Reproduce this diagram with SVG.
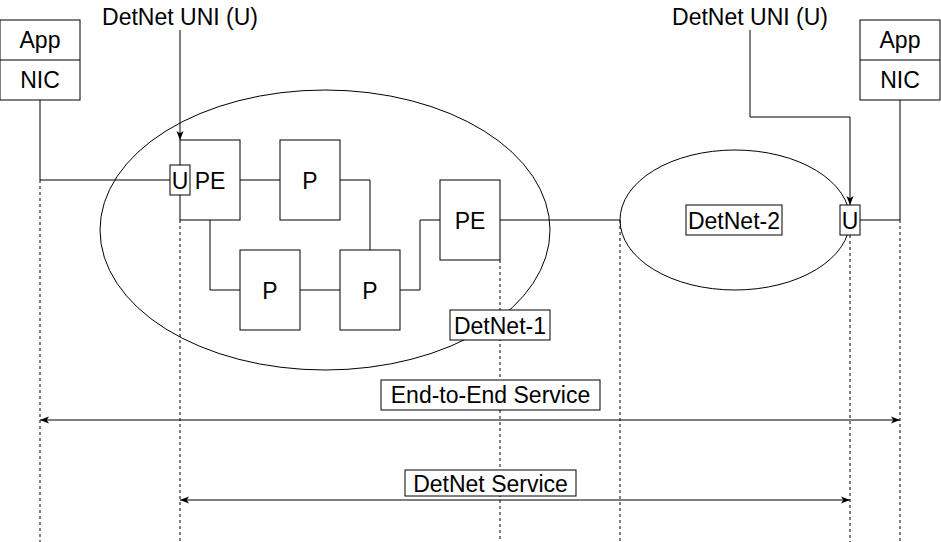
<svg xmlns="http://www.w3.org/2000/svg" width="941" height="542" viewBox="0 0 941 542">
<style>
text{font-family:"Liberation Sans",Arial,sans-serif;font-size:23px;fill:#000;text-anchor:middle}
.box{fill:#fff;stroke:#000;stroke-width:1}
.ell{fill:#fff;stroke:#000;stroke-width:1}
.ln{fill:none;stroke:#000;stroke-width:1}
.dash{fill:none;stroke:#000;stroke-width:1;stroke-dasharray:3 3}
</style>
<defs>
<marker id="arr" viewBox="0 0 10 8" refX="10" refY="4" markerWidth="9" markerHeight="7.2" markerUnits="userSpaceOnUse" orient="auto-start-reverse">
<path d="M0,0 L10,4 L0,8 L2.5,4 Z" fill="#000"/>
</marker>
</defs>
<g id="detnet1">
<ellipse class="ell" cx="325" cy="230" rx="225" ry="140"/>
</g>
<g id="detnet2">
<ellipse class="ell" cx="735" cy="220" rx="115" ry="70"/>
</g>
<g id="connectors">
<path class="ln" d="M40,100 V180 H170"/>
<path class="ln" d="M240,180 H280"/>
<path class="ln" d="M340,180 H370 V250"/>
<path class="ln" d="M210,220 V290 H240"/>
<path class="ln" d="M300,290 H340"/>
<path class="ln" d="M400,290 H420 V220 H440"/>
<path class="ln" d="M500,220 H620"/>
<path class="ln" d="M860,220 H900 V100"/>
<path class="ln" d="M180,30 V140" marker-end="url(#arr)"/>
<path class="ln" d="M750,30 V117 H850 V205" marker-end="url(#arr)"/>
<path class="dash" d="M40,180 V542"/>
<path class="dash" d="M180,220 V542"/>
<path class="dash" d="M500,260 V542"/>
<path class="dash" d="M620,220 V542"/>
<path class="dash" d="M850,235 V542"/>
<path class="dash" d="M900,220 V542"/>
<path class="ln" d="M40,420 H900" marker-start="url(#arr)" marker-end="url(#arr)"/>
<path class="ln" d="M180,500 H850" marker-start="url(#arr)" marker-end="url(#arr)"/>
</g>
<g id="host-left">
<rect class="box" x="0" y="20" width="80" height="80"/>
<path class="ln" d="M0,60 H80"/>
<text x="40" y="48">App</text>
<text x="40" y="88">NIC</text>
</g>
<g id="host-right">
<rect class="box" x="860" y="20" width="80" height="80"/>
<path class="ln" d="M860,60 H940"/>
<text x="900" y="48">App</text>
<text x="900" y="88">NIC</text>
</g>
<g id="pe1">
<rect class="box" x="180" y="140" width="60" height="80"/>
<text x="210" y="189">PE</text>
</g>
<g id="u1">
<rect class="box" x="170" y="165" width="20" height="30"/>
<text x="180" y="189">U</text>
</g>
<g id="p1">
<rect class="box" x="280" y="140" width="60" height="80"/>
<text x="310" y="189">P</text>
</g>
<g id="p2">
<rect class="box" x="240" y="250" width="60" height="80"/>
<text x="270" y="299">P</text>
</g>
<g id="p3">
<rect class="box" x="340" y="250" width="60" height="80"/>
<text x="370" y="299">P</text>
</g>
<g id="pe2">
<rect class="box" x="440" y="180" width="60" height="80"/>
<text x="470" y="229">PE</text>
</g>
<g id="u2">
<rect class="box" x="840" y="205" width="20" height="30"/>
<text x="850" y="229">U</text>
</g>
<g id="label-detnet1">
<rect class="box" x="450" y="310" width="100" height="30"/>
<text x="500" y="334">DetNet-1</text>
</g>
<g id="label-detnet2">
<rect class="box" x="686" y="205" width="96" height="30"/>
<text x="734" y="229">DetNet-2</text>
</g>
<g id="label-uni-left">
<text x="180" y="25">DetNet UNI (U)</text>
</g>
<g id="label-uni-right">
<text x="750" y="25">DetNet UNI (U)</text>
</g>
<g id="label-e2e">
<rect class="box" x="381" y="380" width="219" height="30"/>
<text x="490.5" y="403">End-to-End Service</text>
</g>
<g id="label-detnet-service">
<rect class="box" x="405" y="470" width="171" height="26"/>
<text x="490.5" y="492">DetNet Service</text>
</g>
</svg>
